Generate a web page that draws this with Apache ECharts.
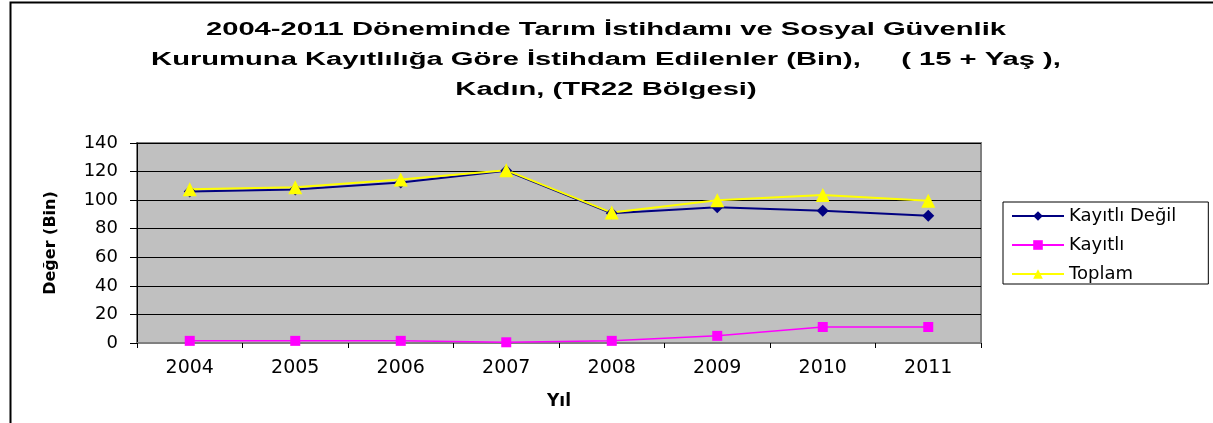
<!DOCTYPE html>
<html>
<head>
<meta charset="utf-8">
<script src="https://cdn.jsdelivr.net/npm/echarts@6/dist/echarts.min.js"></script>
<style>
  html, body { margin: 0; padding: 0; background: #fff; }
  #chart { width: 1213px; height: 423px; }
</style>
</head>
<body>
<div id="chart"></div>
<script>
//////////Datos
var years = ['2004', '2005', '2006', '2007', '2008', '2009', '2010', '2011'];
var kayitliDegil = [106, 107.5, 112.3, 120.5, 90.8, 95, 92.5, 89];
var kayitli = [1.5, 1.5, 1.5, 0.5, 1.5, 5, 11.2, 11.2];
var toplam = [107.6, 109, 114.5, 121, 91.3, 100, 103.6, 99.6];
var titleText = '2004-2011 Döneminde Tarım İstihdamı ve Sosyal Güvenlik\nKurumuna Kayıtlılığa Göre İstihdam Edilenler (Bin),     ( 15 + Yaş ),\nKadın, (TR22 Bölgesi)';

var font = '"DejaVu Sans", "Liberation Sans", Arial, sans-serif';

//////////Chart
var chart = echarts.init(document.getElementById('chart'));
var option = {
    animation: false,
    graphic: [
        //marco exterior
        {
            type: 'rect',
            left: 8,
            top: 0,
            shape: { width: 1300, height: 500 },
            style: { fill: 'none', stroke: '#000', lineWidth: 2 },
            silent: true
        },
        //titulo (texto estirado como en el original)
        {
            type: 'text',
            x: 606,
            y: 15,
            scaleX: 1.62,
            style: {
                text: titleText,
                fontFamily: '"Liberation Sans", Arial, sans-serif',
                fontSize: 18,
                fontWeight: 'bold',
                fill: '#000',
                align: 'center',
                verticalAlign: 'top',
                lineHeight: 30
            },
            silent: true
        }
    ],
    legend: {
        orient: 'vertical',
        left: 1003,
        top: 202,
        borderColor: '#000',
        borderWidth: 1,
        padding: [5, 32, 1, 8],
        itemWidth: 52,
        itemHeight: 12,
        itemGap: 11,
        textStyle: {
            fontFamily: font,
            fontSize: 18,
            color: '#000'
        },
        data: ['Kayıtlı Değil', 'Kayıtlı', 'Toplam']
    },
    grid: {
        left: 137,
        top: 143,
        width: 844,
        height: 200,
        show: true,
        backgroundColor: '#c0c0c0',
        borderColor: '#808080',
        borderWidth: 2
    },
    xAxis: {
        type: 'category',
        data: years,
        boundaryGap: true,
        name: 'Yıl',
        nameLocation: 'middle',
        nameGap: 50,
        nameTextStyle: {
            fontFamily: font,
            fontSize: 17,
            fontWeight: 'bold',
            color: '#000'
        },
        axisLine: { lineStyle: { color: '#808080', width: 2 } },
        axisTick: { show: true, length: 5, lineStyle: { color: '#000' } },
        axisLabel: {
            fontFamily: font,
            fontSize: 19,
            color: '#000',
            margin: 16
        }
    },
    yAxis: {
        type: 'value',
        min: 0,
        max: 140,
        interval: 20,
        name: 'Değer (Bin)',
        nameLocation: 'middle',
        nameGap: 78,
        nameTextStyle: {
            fontFamily: font,
            fontSize: 16,
            fontWeight: 'bold',
            color: '#000'
        },
        axisLine: { show: true, lineStyle: { color: '#000', width: 1 } },
        axisTick: { show: true, length: 7, lineStyle: { color: '#000' } },
        axisLabel: {
            fontFamily: font,
            fontSize: 18,
            color: '#000',
            margin: 19
        },
        splitLine: { show: true, lineStyle: { color: '#000', width: 1 } }
    },
    series: [
        {
            name: 'Kayıtlı Değil',
            type: 'line',
            data: kayitliDegil,
            symbol: 'diamond',
            symbolSize: 12,
            itemStyle: { color: '#000080' },
            lineStyle: { color: '#000080', width: 2 }
        },
        {
            name: 'Kayıtlı',
            type: 'line',
            data: kayitli,
            symbol: 'rect',
            symbolSize: 10,
            itemStyle: { color: '#ff00ff' },
            lineStyle: { color: '#ff00ff', width: 1.5 }
        },
        {
            name: 'Toplam',
            type: 'line',
            data: toplam,
            symbol: 'triangle',
            symbolSize: 14,
            itemStyle: { color: '#ffff00' },
            lineStyle: { color: '#ffff00', width: 2 }
        }
    ]
};
chart.setOption(option);
</script>
</body>
</html>
